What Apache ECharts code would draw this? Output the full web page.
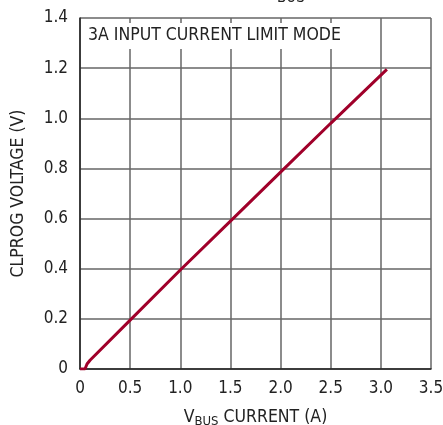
<!DOCTYPE html>
<html><head><meta charset="utf-8">
<script src="https://cdn.jsdelivr.net/npm/echarts@6/dist/echarts.min.js"></script>
<style>html,body{margin:0;padding:0;background:#fff}#c{width:443px;height:425px}</style>
</head><body><div id="c"></div>
<script>
const current = [0, 0.05, 0.07, 0.1, 0.5, 1.0, 1.5, 2.0, 2.5, 3.06];
const voltage = [0, 0, 0.02, 0.035, 0.195, 0.395, 0.59, 0.785, 0.98, 1.195];
const xTicks = ['0','0.5','1.0','1.5','2.0','2.5','3.0','3.5'];
const yTicks = ['0','0.2','0.4','0.6','0.8','1.0','1.2','1.4'];
const annotation = '3A INPUT CURRENT LIMIT MODE';
const FONT = "'DejaVu Sans Condensed',sans-serif";
const chart = echarts.init(document.getElementById('c'));
chart.setOption({
  animation:false,
  grid:{left:80,top:18,width:351,height:351,outerBoundsMode:'none',containLabel:false},
  xAxis:{type:'value',min:0,max:3.5,interval:0.5,
    axisLine:{lineStyle:{color:'#222',width:1.5}},
    axisTick:{show:false},
    splitLine:{lineStyle:{color:'#666',width:1.5}},
    axisLabel:{color:'#222',fontSize:17,fontFamily:FONT,margin:11,
      formatter:(v)=>xTicks[Math.round(v/0.5)]},
    name:'{a|V}{b|BUS}{a| CURRENT (A)}',nameLocation:'middle',nameGap:37,
    nameTextStyle:{rich:{a:{fontSize:17.5,fontFamily:FONT,color:'#222'},
      b:{fontSize:13,fontFamily:FONT,color:'#222',padding:[9,0,0,0]}}}},
  yAxis:{type:'value',min:0,max:1.4,interval:0.2,
    axisLine:{show:true,lineStyle:{color:'#222',width:1.5}},
    axisTick:{show:false},
    splitLine:{lineStyle:{color:'#666',width:1.5}},
    axisLabel:{color:'#222',fontSize:17,fontFamily:FONT,margin:12,
      formatter:(v)=>yTicks[Math.round(v/0.2)]},
    name:'CLPROG VOLTAGE (V)',nameLocation:'middle',nameGap:53,
    nameTextStyle:{fontSize:17.5,fontFamily:FONT,color:'#222'}},
  graphic:[
    {type:'rect',left:81,top:23,shape:{width:268,height:26},style:{fill:'#fff'},z:10},
    {type:'text',left:88,top:26,z:11,style:{text:annotation,fontSize:17.5,fontFamily:FONT,fill:'#222'}},
    {type:'text',left:277,top:-9,z:11,style:{text:'BUS',fontSize:15,fontFamily:FONT,fill:'#222'}}
  ],
  series:[{type:'line',data:current.map((x,i)=>[x,voltage[i]]),showSymbol:false,
    lineStyle:{color:'#a0002a',width:3},z:5}]
});
</script></body></html>
